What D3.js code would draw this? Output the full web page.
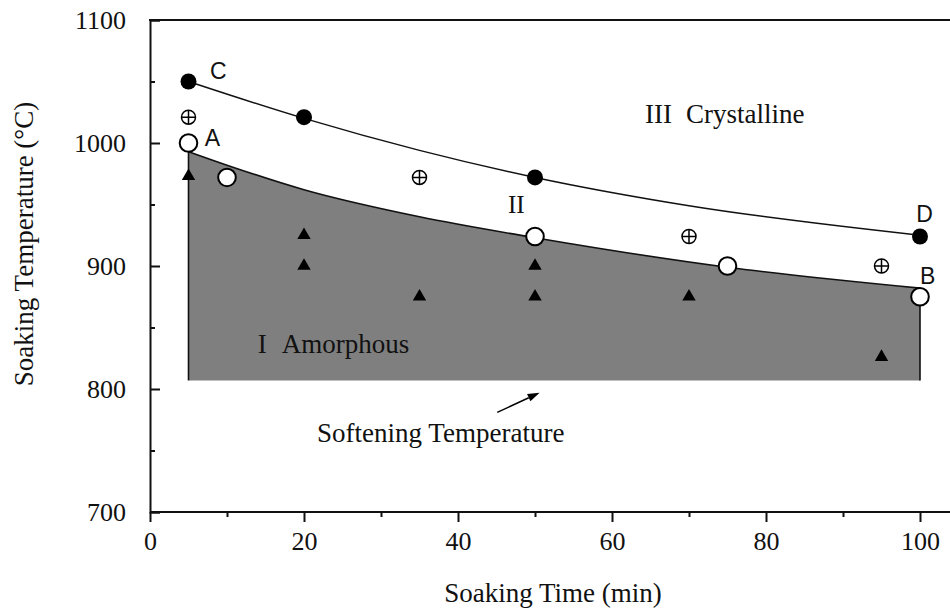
<!DOCTYPE html>
<html>
<head>
<meta charset="utf-8">
<script src="https://cdn.jsdelivr.net/npm/d3@7"></script>
<style>
  html, body { margin: 0; padding: 0; background: #fff; }
  svg { display: block; }
  .serif { font-family: "Liberation Serif", "Times New Roman", serif; fill: #111; }
  .sans { font-family: "Liberation Sans", Arial, sans-serif; fill: #111; }
</style>
</head>
<body>
<svg id="chart" width="950" height="610"></svg>
<script>
// Soaking time (min) vs soaking temperature (°C) phase map

// Crystallisation boundary C -> D
const upperTimes = [5, 20, 35, 50, 70, 100];
const upperTemps = [1050, 1020, 994, 972, 949, 925];

// Amorphous boundary A -> B (top of the shaded region)
const lowerTimes = [5, 10, 20, 35, 50, 75, 100];
const lowerTemps = [993, 982, 962, 940, 923, 899, 882];

// Softening temperature (bottom of the shaded region)
const softeningTemp = 807;

// Measured points
const crystTimes = [5, 20, 50, 100];            // filled circles
const crystTemps = [1050, 1021, 972, 924];
const onsetTimes = [5, 10, 50, 75, 100];        // open circles
const onsetTemps = [1000, 972, 924, 900, 875];
const mixedTimes = [5, 35, 70, 95];             // crossed circles
const mixedTemps = [1021, 972, 924, 900];
const amorphTimes = [5, 20, 20, 35, 50, 50, 70, 95]; // triangles
const amorphTemps = [973, 925, 900, 875, 900, 875, 875, 826];

// Axis ticks
const xMajorTicks = [0, 20, 40, 60, 80, 100];
const xMinorTicks = [10, 30, 50, 70, 90];
const yMajorTicks = [700, 800, 900, 1000, 1100];
const yMinorTicks = [750, 850, 950, 1050];

// Text annotations, anchored in data coordinates
const pointLabels = ["C", "A", "D", "B"];
const pointLabelTimes = [7.8, 7.1, 99.5, 100];
const pointLabelTemps = [1052, 997.5, 936, 885.5];

const regionLabels = ["III", "Crystalline", "II", "I", "Amorphous", "Softening Temperature"];
const regionLabelTimes = [64.3, 69.6, 46.5, 14.0, 17.1, 21.7];
const regionLabelTemps = [1016.5, 1016.5, 943, 829.5, 829.5, 757];

const arrowFrom = [45.1, 781];
const arrowTo = [50.6, 797];

const svg = d3.select("#chart");
const W = 950, H = 610;
const plotLeft = 150, plotTop = 20, plotBottom = 512;

const x = d3.scaleLinear().domain([0, 106]).range([plotLeft, plotLeft + 106 * 7.7]);
const y = d3.scaleLinear().domain([700, 1100]).range([plotBottom, plotTop]);

svg.append("rect").attr("width", W).attr("height", H).attr("fill", "#fff");

// Shaded amorphous region
const lowerPts = lowerTimes.map((t, i) => [t, lowerTemps[i]]);
const upperPts = upperTimes.map((t, i) => [t, upperTemps[i]]);

const area = d3.area()
  .x(d => x(d[0]))
  .y0(y(softeningTemp))
  .y1(d => y(d[1]))
  .curve(d3.curveMonotoneX);

svg.append("path")
  .datum(lowerPts)
  .attr("d", area)
  .attr("fill", "#7f7f7f");

const line = d3.line()
  .x(d => x(d[0]))
  .y(d => y(d[1]))
  .curve(d3.curveMonotoneX);

svg.append("path")
  .datum(lowerPts)
  .attr("d", line)
  .attr("fill", "none")
  .attr("stroke", "#111")
  .attr("stroke-width", 1.6);

// vertical edges of the shaded region
[lowerPts[0], lowerPts[lowerPts.length - 1]].forEach(p => {
  svg.append("line")
    .attr("x1", x(p[0])).attr("x2", x(p[0]))
    .attr("y1", y(p[1])).attr("y2", y(softeningTemp))
    .attr("stroke", "#111").attr("stroke-width", 1.6);
});

svg.append("path")
  .datum(upperPts)
  .attr("d", line)
  .attr("fill", "none")
  .attr("stroke", "#111")
  .attr("stroke-width", 1.5);

// Axes
const xAxisG = svg.append("g").attr("transform", `translate(0,${plotBottom})`);
xAxisG.call(d3.axisBottom(x).tickValues(xMajorTicks).tickSize(10).tickPadding(9.5).tickFormat(d3.format("d")));
xAxisG.append("g").call(d3.axisBottom(x).tickValues(xMinorTicks).tickSize(5).tickFormat(""))
  .select(".domain").remove();
xAxisG.select(".domain").attr("d", `M${plotLeft},0H${W + 5}`);

const yAxisG = svg.append("g").attr("transform", `translate(${plotLeft},0)`);
yAxisG.call(d3.axisLeft(y).tickValues(yMajorTicks).tickSize(-10).tickPadding(24).tickFormat(d3.format("d")));
yAxisG.append("g").call(d3.axisLeft(y).tickValues(yMinorTicks).tickSize(-5).tickFormat(""))
  .select(".domain").remove();

[xAxisG, yAxisG].forEach(g => {
  g.selectAll(".domain").attr("stroke", "#111").attr("stroke-width", 2);
  g.selectAll(".tick line").attr("stroke", "#111").attr("stroke-width", 2);
  g.selectAll(".tick text")
    .attr("class", "serif")
    .style("font-size", "26px")
    .attr("fill", "#111");
});

// top frame line
svg.append("line")
  .attr("x1", plotLeft - 1).attr("x2", W)
  .attr("y1", y(1100)).attr("y2", y(1100))
  .attr("stroke", "#111").attr("stroke-width", 2);

// Axis titles
svg.append("text")
  .attr("class", "serif")
  .attr("x", 553).attr("y", 602)
  .attr("text-anchor", "middle")
  .style("font-size", "27px")
  .text("Soaking Time (min)");

svg.append("text")
  .attr("class", "serif")
  .attr("transform", `translate(33,244) rotate(-90)`)
  .attr("text-anchor", "middle")
  .style("font-size", "27px")
  .text("Soaking Temperature (°C)");

// Markers
const tri = d3.symbol().type(d3.symbolTriangle).size(78);
svg.append("g").selectAll("path")
  .data(amorphTimes.map((t, i) => [t, amorphTemps[i]]))
  .join("path")
  .attr("transform", d => `translate(${x(d[0])},${y(d[1])})`)
  .attr("d", tri)
  .attr("fill", "#000");

svg.append("g").selectAll("circle")
  .data(onsetTimes.map((t, i) => [t, onsetTemps[i]]))
  .join("circle")
  .attr("cx", d => x(d[0])).attr("cy", d => y(d[1]))
  .attr("r", 8.8)
  .attr("fill", "#fff").attr("stroke", "#000").attr("stroke-width", 2);

svg.append("g").selectAll("circle")
  .data(crystTimes.map((t, i) => [t, crystTemps[i]]))
  .join("circle")
  .attr("cx", d => x(d[0])).attr("cy", d => y(d[1]))
  .attr("r", 8)
  .attr("fill", "#000");

const mixed = svg.append("g").selectAll("g")
  .data(mixedTimes.map((t, i) => [t, mixedTemps[i]]))
  .join("g")
  .attr("transform", d => `translate(${x(d[0])},${y(d[1])})`);
mixed.append("circle").attr("r", 7).attr("fill", "#fff").attr("stroke", "#000").attr("stroke-width", 1.5);
mixed.append("path").attr("d", "M-7,0H7M0,-7V7").attr("stroke", "#000").attr("stroke-width", 1.5);

// Point labels
svg.append("g").selectAll("text")
  .data(pointLabels)
  .join("text")
  .attr("class", "sans")
  .attr("x", (d, i) => x(pointLabelTimes[i]))
  .attr("y", (d, i) => y(pointLabelTemps[i]))
  .style("font-size", "23px")
  .text(d => d);

// Region labels
svg.append("g").selectAll("text")
  .data(regionLabels)
  .join("text")
  .attr("class", "serif")
  .attr("x", (d, i) => x(regionLabelTimes[i]))
  .attr("y", (d, i) => y(regionLabelTemps[i]))
  .style("font-size", (d, i) => (i === 2 ? "25px" : "27px"))
  .text(d => d);

// Arrow pointing at the softening temperature edge
const ax1 = x(arrowFrom[0]), ay1 = y(arrowFrom[1]);
const ax2 = x(arrowTo[0]), ay2 = y(arrowTo[1]);
const ang = Math.atan2(ay2 - ay1, ax2 - ax1);
const headLen = 12, headW = 4;
const bx = ax2 - headLen * Math.cos(ang), by = ay2 - headLen * Math.sin(ang);
svg.append("line")
  .attr("x1", ax1).attr("y1", ay1).attr("x2", bx).attr("y2", by)
  .attr("stroke", "#000").attr("stroke-width", 1.5);
svg.append("path")
  .attr("d", `M${ax2},${ay2}L${bx - headW * Math.sin(ang)},${by + headW * Math.cos(ang)}L${bx + headW * Math.sin(ang)},${by - headW * Math.cos(ang)}Z`)
  .attr("fill", "#000");
</script>
</body>
</html>
